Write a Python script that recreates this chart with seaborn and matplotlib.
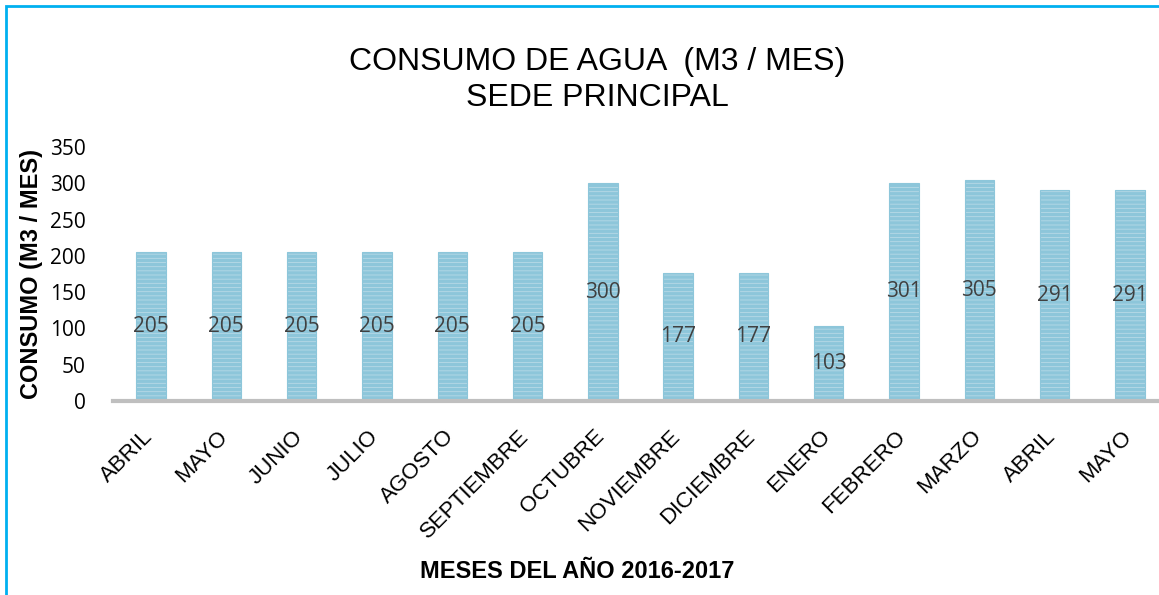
import matplotlib
matplotlib.use("Agg")
import matplotlib.pyplot as plt
import matplotlib.transforms as mtransforms
import seaborn as sns
import pandas as pd
from matplotlib.patches import Rectangle

months = ["ABRIL", "MAYO", "JUNIO", "JULIO", "AGOSTO", "SEPTIEMBRE", "OCTUBRE",
          "NOVIEMBRE", "DICIEMBRE", "ENERO", "FEBRERO", "MARZO", "ABRIL", "MAYO"]
values = [205, 205, 205, 205, 205, 205, 300, 177, 177, 103, 301, 305, 291, 291]
yticks = [0, 50, 100, 150, 200, 250, 300, 350]

sns.set_theme(style="white")
plt.rcParams['font.family'] = ['Liberation Sans', 'DejaVu Sans']
plt.rcParams['hatch.color'] = '#4598B9'
plt.rcParams['hatch.linewidth'] = 2.4

df = pd.DataFrame({"idx": list(range(len(months))), "value": values})

fig = plt.figure(figsize=(11.59, 5.95), dpi=100)
ax = fig.add_axes([113.4 / 1159, 194 / 595, 1054.2 / 1159, 254 / 595])

sns.barplot(data=df, x="idx", y="value", ax=ax, color="#B8DAE7", width=0.39,
            saturation=1, edgecolor="#8DC6DA", linewidth=0.8)
for p in ax.patches:
    p.set_hatch("----")

ax.set_ylim(0, 350)
ax.set_xlim(-0.5, len(months) - 0.5)
ax.set_yticks(yticks)
ax.set_yticklabels([str(t) for t in yticks], fontsize=15, family="Open Sans", color="#000000")
ax.set_xticks(range(len(months)))
ax.set_xticklabels(months, rotation=45, ha="right", rotation_mode="anchor",
                   fontsize=16, color="#000000")
ax.tick_params(axis="x", length=0, pad=18)
ax.tick_params(axis="y", length=0, pad=20)
shift = mtransforms.ScaledTranslation(-9 / 100, 0, fig.dpi_scale_trans)
for lbl in ax.get_xticklabels():
    lbl.set_transform(lbl.get_transform() + shift)

for s in ["top", "right", "left"]:
    ax.spines[s].set_visible(False)
ax.spines["bottom"].set_color("#BFBFBF")
ax.spines["bottom"].set_linewidth(3)

for i, v in enumerate(values):
    ax.text(i, v / 2, str(v), ha="center", va="center", fontsize=15,
            family="Open Sans", color="#404040")

ax.set_xlabel("MESES DEL AÑO 2016-2017", fontsize=17, fontweight="bold", color="black")
ax.xaxis.set_label_coords((577 - 113.4) / 1054.2, -(571 - 401) / 254)
ax.xaxis.label.set_va("center")
ax.set_ylabel("CONSUMO (M3 / MES)", fontsize=17, fontweight="bold", color="black")
ax.yaxis.set_label_coords((31 - 113.4) / 1054.2, 0.5)
ax.yaxis.label.set_va("center")

fig.text(597 / 1159, 1 - 62 / 595, "CONSUMO DE AGUA  (M3 / MES)", ha="center", va="center",
         fontsize=23, color="black")
fig.text(597 / 1159, 1 - 98 / 595, "SEDE PRINCIPAL", ha="center", va="center",
         fontsize=23, color="black")

fig.patches.append(Rectangle((6 / 1159, -0.1), 1.2, 1 - 6 / 595 + 0.1,
                             transform=fig.transFigure, fill=False,
                             edgecolor="#00B0F0", linewidth=2, zorder=10))

fig.savefig("out.png", dpi=100)
